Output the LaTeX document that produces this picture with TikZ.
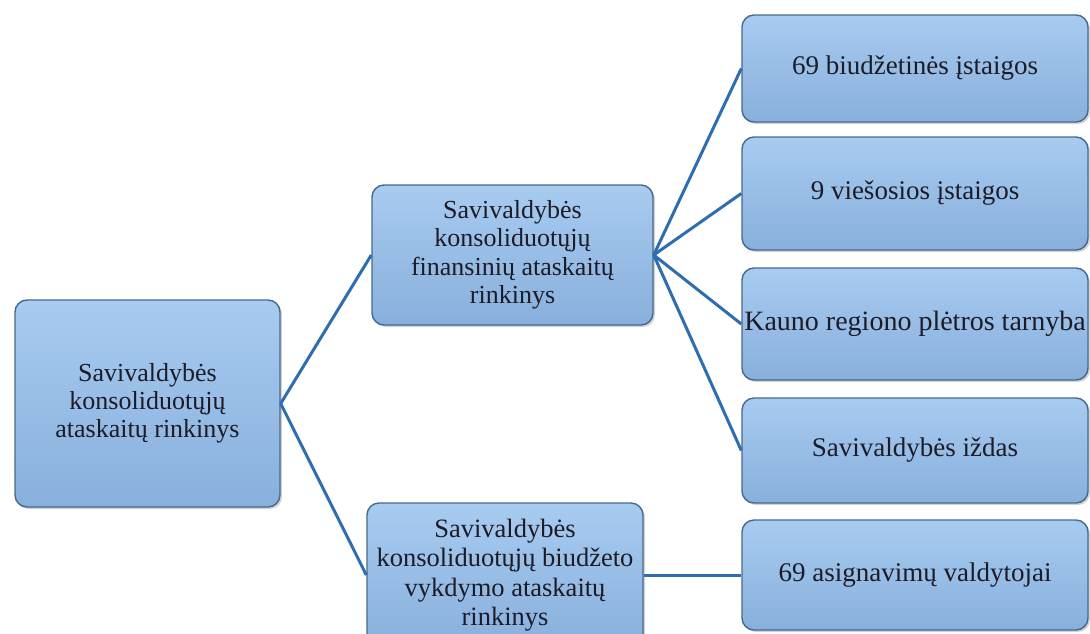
\documentclass[tikz,border=0pt]{standalone}
\usepackage{fontspec}
\setmainfont{Liberation Serif}
\usetikzlibrary{shadows}
\definecolor{boxtop}{HTML}{A8CBF0}
\definecolor{boxbot}{HTML}{88B0DC}
\definecolor{boxedge}{HTML}{46698E}
\definecolor{linkblue}{HTML}{2E6EB0}
\definecolor{txt}{HTML}{1C1C28}
\begin{document}
\begin{tikzpicture}[x=1pt,y=-1pt,
  boxnode/.style={draw=boxedge, line width=1.4pt, rounded corners=12pt,
    top color=boxtop, bottom color=boxbot, text=txt, align=center,
    inner sep=0pt,
    drop shadow={opacity=0.35, shadow xshift=2pt, shadow yshift=-2pt}},
  link/.style={draw=linkblue, line width=3pt}]
\clip (0,0) rectangle (1090,633);
\fill[white] (0,0) rectangle (1090,633);
\node[boxnode, minimum width=265pt, minimum height=207pt,
  font=\fontsize{26}{28}\selectfont] (L) at (147.5,403.5)
  {Savivaldybės\\konsoliduotųjų\\ataskaitų rinkinys};
\node[boxnode, minimum width=281pt, minimum height=140pt,
  font=\fontsize{26}{28.5}\selectfont] (MT) at (512.5,255)
  {Savivaldybės\\konsoliduotųjų\\finansinių ataskaitų\\rinkinys};
\node[boxnode, minimum width=276pt, minimum height=144pt,
  font=\fontsize{26.5}{29.5}\selectfont] (MB) at (505,575)
  {Savivaldybės\\konsoliduotųjų biudžeto\\vykdymo ataskaitų\\rinkinys};
\node[boxnode, minimum width=346pt, minimum height=107pt,
  font=\fontsize{27}{28}\selectfont] (R1) at (915,68.5)
  {69 biudžetinės įstaigos};
\node[boxnode, minimum width=346pt, minimum height=113pt,
  font=\fontsize{27}{28}\selectfont] (R2) at (915,193.5)
  {9 viešosios įstaigos};
\node[boxnode, minimum width=346pt, minimum height=112pt,
  font=\fontsize{28}{30}\selectfont] (R3) at (915,324)
  {Kauno regiono plėtros tarnyba};
\node[boxnode, minimum width=346pt, minimum height=105pt,
  font=\fontsize{27}{28}\selectfont] (R4) at (915,450.5)
  {Savivaldybės iždas};
\node[boxnode, minimum width=346pt, minimum height=110pt,
  font=\fontsize{27}{28}\selectfont] (R5) at (915,575)
  {69 asignavimų valdytojai};
\draw[link] (L.east) -- (MT.west);
\draw[link] (L.east) -- (MB.west);
\draw[link] (MT.east) -- (R1.west);
\draw[link] (MT.east) -- (R2.west);
\draw[link] (MT.east) -- (R3.west);
\draw[link] (MT.east) -- (R4.west);
\draw[link] (MB.east) -- (R5.west);
\end{tikzpicture}
\end{document}
